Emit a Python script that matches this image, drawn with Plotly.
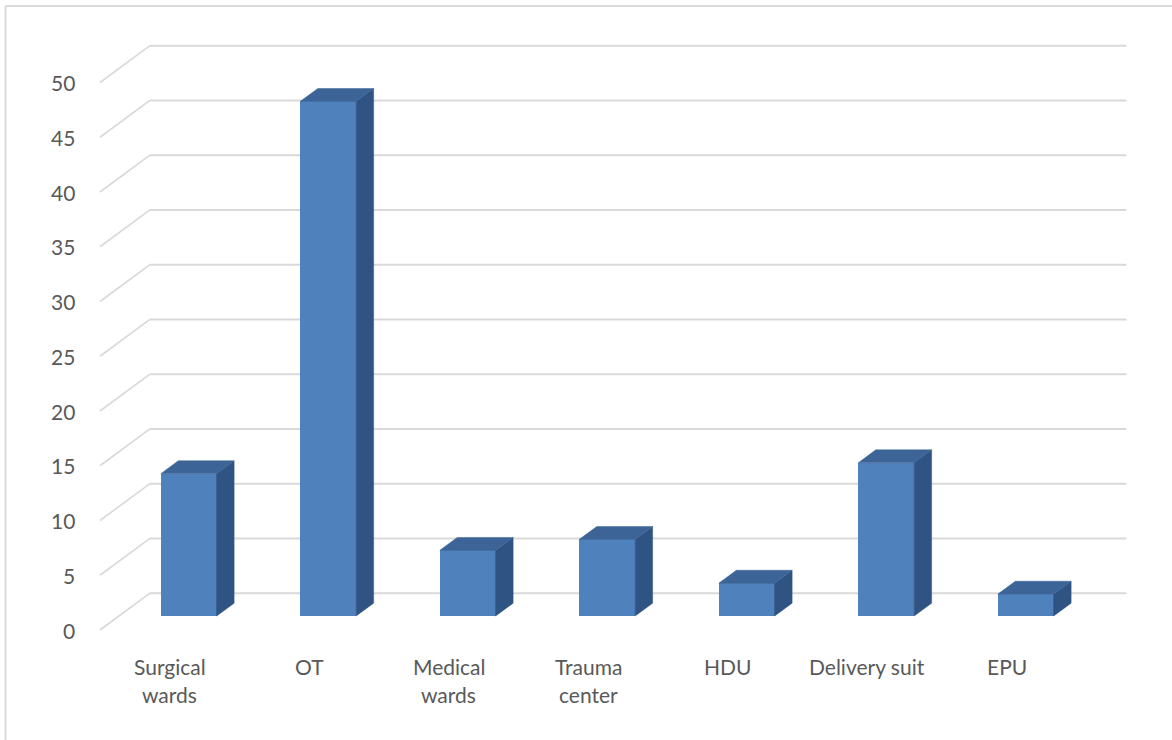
import plotly.graph_objects as go

# Incident counts by hospital unit
categories = ["Surgical wards", "OT", "Medical wards", "Trauma center", "HDU", "Delivery suit", "EPU"]
counts = [13, 47, 6, 7, 3, 14, 2]
tick_values = [0, 5, 10, 15, 20, 25, 30, 35, 40, 45, 50]

# Pseudo-3D projection: depth fraction d moves a point right/up by DX/DY data units
DX = 0.358
DY = 3.36
BAR_W = 0.40          # front face width (category units)
BAR_FRONT = 0.38      # depth fraction of the bar front face
BAR_DEPTH = 0.35      # depth of the bar box

GRID = "#d9d9d9"
TEXT = "#595959"
FRONT = "#4f81bd"
TOP = "#3c6497"
SIDE = "#2f5383"
FONT = "Lato"
FSIZE = 21

n = len(categories)
fig = go.Figure()

W, H = 1172, 740
shapes = []

# back wall gridlines and left wall diagonals, kept beneath the bars
for v in tick_values:
    shapes.append(dict(type="line", xref="x", yref="y", x0=DX, x1=n + DX, y0=v + DY, y1=v + DY,
                       layer="below", line=dict(color=GRID, width=2)))
    shapes.append(dict(type="line", xref="x", yref="y", x0=0, x1=DX, y0=v, y1=v + DY,
                       layer="below", line=dict(color=GRID, width=1.6)))

fx = BAR_FRONT * DX
fy = BAR_FRONT * DY
bx = BAR_DEPTH * DX
by = BAR_DEPTH * DY

# side and top faces of each box
for i, v in enumerate(counts):
    xl = i + 0.5 + fx - BAR_W / 2
    xr = i + 0.5 + fx + BAR_W / 2
    y0 = fy
    y1 = v + fy
    fig.add_trace(go.Scatter(
        x=[xr, xr + bx, xr + bx, xr, xr], y=[y0, y0 + by, y1 + by, y1, y0],
        mode="lines", fill="toself", fillcolor=SIDE, line=dict(color=SIDE, width=0.5),
        hoverinfo="skip", showlegend=False))
    fig.add_trace(go.Scatter(
        x=[xl, xr, xr + bx, xl + bx, xl], y=[y1, y1, y1 + by, y1 + by, y1],
        mode="lines", fill="toself", fillcolor=TOP, line=dict(color=TOP, width=0.5),
        hoverinfo="skip", showlegend=False))

# front faces
fig.add_trace(go.Bar(
    x=[i + 0.5 + fx for i in range(n)], y=counts, base=fy, width=BAR_W,
    marker=dict(color=FRONT, line=dict(width=0)), showlegend=False,
    hovertext=categories, hoverinfo="text+y"))

annotations = []
for v in tick_values:
    annotations.append(dict(x=-0.165, y=v, xref="x", yref="y", text=str(v), showarrow=False,
                            xanchor="right", yanchor="middle",
                            font=dict(family=FONT, size=FSIZE, color=TEXT)))

for i, name in enumerate(categories):
    lines = [name] if name == "Delivery suit" else name.split(" ")
    for k, line in enumerate(lines):
        annotations.append(dict(x=i + 0.5, y=-3.3 - k * 2.55, xref="x", yref="y", text=line,
                                showarrow=False, xanchor="center", yanchor="middle",
                                font=dict(family=FONT, size=FSIZE, color=TEXT)))

# chart frame (left and top edges)
shapes += [
    dict(type="line", xref="paper", yref="paper", x0=5.5 / W, x1=5.5 / W, y0=0, y1=1 - 6 / H,
         line=dict(color=GRID, width=2)),
    dict(type="line", xref="paper", yref="paper", x0=5.5 / W, x1=1, y0=1 - 6 / H, y1=1 - 6 / H,
         line=dict(color=GRID, width=2)),
]

PXX = 139.5   # pixels per category unit
PXY = 10.95   # pixels per count unit
X0PX = 100.0  # pixel position of front-plane x = 0
Y0PX = 630.0  # pixel position of front-plane value 0

fig.update_layout(
    width=W, height=H, autosize=False,
    margin=dict(l=0, r=0, t=0, b=0),
    paper_bgcolor="white", plot_bgcolor="white",
    xaxis=dict(range=[-X0PX / PXX, (W - X0PX) / PXX], visible=False, fixedrange=True),
    yaxis=dict(range=[(Y0PX - H) / PXY, Y0PX / PXY], visible=False, fixedrange=True),
    annotations=annotations, shapes=shapes, bargap=0,
)

fig.write_html("out.html")
